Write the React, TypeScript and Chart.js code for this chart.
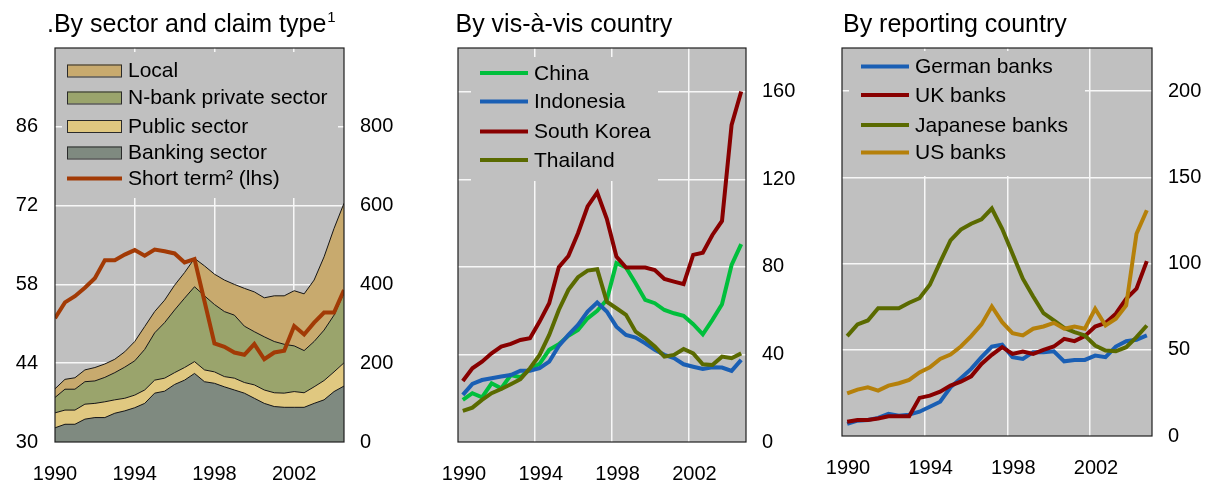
import React, { useEffect, useRef } from 'react';
import { Chart, registerables } from 'chart.js';

Chart.register(...registerables);

const FONT = "'Liberation Sans', Arial, Helvetica, sans-serif";

// ---------- shared x positions (half-yearly observations) ----------
const periodsSector = [
  1990, 1990.5, 1991, 1991.5, 1992, 1992.5, 1993, 1993.5, 1994, 1994.5,
  1995, 1995.5, 1996, 1996.5, 1997, 1997.5, 1998, 1998.5, 1999, 1999.5,
  2000, 2000.5, 2001, 2001.5, 2002, 2002.5, 2003, 2003.5, 2004, 2004.5,
];
const periodsCountry = [
  1990.25, 1990.75, 1991.25, 1991.75, 1992.25, 1992.75, 1993.25, 1993.75, 1994.25, 1994.75,
  1995.25, 1995.75, 1996.25, 1996.75, 1997.25, 1997.75, 1998.25, 1998.75, 1999.25, 1999.75,
  2000.25, 2000.75, 2001.25, 2001.75, 2002.25, 2002.75, 2003.25, 2003.75, 2004.25, 2004.75,
];
const yearTicks = [1990, 1994, 1998, 2002];

// ---------- panel 1: by sector and claim type ----------
const sectorTitle = '.By sector and claim type';
const sectorTitleNote = '1';
const sectorLabels = ['Local', 'N-bank private sector', 'Public sector', 'Banking sector'];
const shortTermLabel = 'Short term² (lhs)';
const localClaims = [22, 25, 29, 30, 34, 34, 34, 39, 49, 58, 54, 57, 63, 65, 72, 76, 77, 80, 78, 96, 101, 99, 116, 123, 140, 144, 156, 186, 220, 228];
const nbankClaims = [39, 53, 53, 57, 57, 62, 69, 79, 87, 103, 120, 141, 159, 176, 190, 188, 171, 165, 160, 143, 135, 135, 130, 124, 116, 107, 115, 128, 144, 177];
const publicClaims = [38, 36, 36, 38, 36, 40, 34, 32, 32, 34, 33, 33, 30, 32, 30, 30, 29, 26, 30, 27, 34, 34, 35, 36, 40, 37, 42, 49, 50, 59];
const bankingClaims = [36, 45, 45, 58, 62, 62, 73, 79, 87, 98, 124, 129, 146, 157, 174, 153, 149, 140, 132, 124, 111, 98, 90, 88, 88, 88, 98, 107, 128, 142];
const shortTermShare = [52.0, 54.8, 55.9, 57.4, 59.1, 62.3, 62.3, 63.3, 64.1, 63.1, 64.2, 63.9, 63.5, 61.9, 62.5, 55.0, 47.5, 46.9, 45.9, 45.5, 47.4, 44.7, 45.9, 46.2, 50.6, 49.1, 51.2, 53.0, 53.0, 57.0];
const lhsTicks = [30, 44, 58, 72, 86];
const rhsTicksSector = [0, 200, 400, 600, 800];

// ---------- panel 2: by vis-a-vis country ----------
const countryTitle = 'By vis-à-vis country';
const countryLabels = ['China', 'Indonesia', 'South Korea', 'Thailand'];
const chinaClaims = [19.2, 22.3, 20.4, 26.8, 24.5, 30.6, 29.6, 33.2, 35.7, 42.1, 44.7, 48.5, 51.2, 56.5, 59.9, 65.0, 81.7, 79.7, 72.5, 64.9, 63.4, 60.3, 58.8, 57.7, 53.8, 49.2, 55.8, 62.9, 80.9, 90.4];
const indonesiaClaims = [21.5, 26.5, 28.3, 29.1, 29.9, 30.6, 32.6, 32.6, 33.7, 36.7, 43.9, 48.9, 53.5, 59.6, 63.7, 59.6, 52.7, 48.9, 47.7, 45.1, 42.1, 39.8, 38.3, 35.5, 34.4, 33.4, 34.1, 34.0, 32.5, 37.5];
const koreaClaims = [27.9, 33.7, 36.7, 40.5, 43.6, 44.8, 46.6, 47.4, 55.0, 63.4, 79.9, 85.0, 95.4, 107.6, 114.0, 102.0, 84.7, 79.7, 79.7, 79.7, 78.6, 74.5, 73.3, 72.1, 85.5, 86.5, 94.6, 101.0, 144.9, 160.1];
const thailandClaims = [14.2, 15.7, 19.2, 22.3, 24.2, 26.4, 28.7, 33.7, 39.8, 48.9, 60.3, 69.5, 75.3, 78.3, 78.9, 64.1, 61.1, 58.1, 50.4, 47.4, 43.6, 39.0, 39.8, 42.5, 40.5, 35.5, 35.2, 39.0, 38.3, 40.5];
const rhsTicksCountry = [0, 40, 80, 120, 160];

// ---------- panel 3: by reporting country ----------
const bankTitle = 'By reporting country';
const bankLabels = ['German banks', 'UK banks', 'Japanese banks', 'US banks'];
const germanClaims = [7.0, 8.9, 9.3, 10.5, 12.8, 11.8, 12.4, 14.1, 17.0, 19.9, 28.2, 33.5, 38.9, 45.7, 51.9, 52.9, 45.7, 44.7, 48.6, 48.6, 49.1, 43.3, 44.1, 44.1, 46.6, 45.7, 51.9, 55.0, 55.8, 58.3];
const ukClaims = [8.3, 9.3, 9.3, 10.2, 11.4, 11.4, 11.4, 22.1, 23.4, 25.7, 29.2, 31.5, 34.6, 41.8, 47.1, 51.5, 47.6, 49.0, 47.6, 50.0, 51.9, 56.3, 55.0, 57.9, 63.5, 65.6, 70.9, 79.6, 85.4, 101.4];
const japaneseClaims = [57.9, 64.7, 67.0, 74.1, 74.1, 74.1, 77.3, 79.9, 87.7, 100.8, 113.4, 119.7, 123.1, 125.6, 131.9, 120.2, 105.7, 91.2, 80.9, 71.2, 67.0, 62.7, 60.2, 58.3, 52.5, 49.6, 49.1, 51.5, 57.3, 64.1];
const usClaims = [24.7, 26.9, 28.2, 26.3, 29.2, 30.6, 32.5, 36.9, 39.8, 44.7, 47.2, 51.9, 57.9, 64.7, 75.1, 66.0, 59.6, 58.3, 62.2, 63.5, 65.6, 62.2, 63.5, 62.2, 73.8, 64.1, 68.0, 75.7, 117.3, 130.9];
const rhsTicksBank = [0, 50, 100, 150, 200];

// ---------- styles ----------
const PLOT_BG = '#c0c0c0';
const GRID = '#f7f7f7';
const FRAME = '#1e1e1e';
const C_LOCAL = '#c8aa6e';
const C_NBANK = '#9aa46c';
const C_PUBLIC = '#e0c880';
const C_BANKING = '#7f8a80';
const C_SHORT = '#a23a05';
const C_GREEN = '#00bf3c';
const C_BLUE = '#1a5fb4';
const C_RED = '#880000';
const C_OLIVE = '#5a6a00';
const C_GOLD = '#b5800a';

type Entry = { label: string; color: string; kind: 'box' | 'line' };
type Deco = {
  title: string;
  note?: string;
  titleX: number;
  legendRect: [number, number, number, number];
  swatchX: number;
  swatchW: number;
  textX: number;
  rows: number[];
  entries: Entry[];
};

function makeDeco(d: Deco) {
  return {
    id: 'deco',
    beforeDraw(chart: any) {
      const { ctx, chartArea: a } = chart;
      ctx.save();
      ctx.fillStyle = PLOT_BG;
      ctx.fillRect(a.left, a.top, a.right - a.left, a.bottom - a.top);
      ctx.restore();
    },
    beforeDatasetsDraw(chart: any) {
      const { ctx } = chart;
      const [lx, ly, lw, lh] = d.legendRect;
      ctx.save();
      ctx.fillStyle = PLOT_BG;
      ctx.fillRect(lx, ly, lw, lh);
      ctx.font = `21px ${FONT}`;
      ctx.textBaseline = 'middle';
      ctx.textAlign = 'left';
      d.entries.forEach((e, i) => {
        const y = d.rows[i];
        if (e.kind === 'box') {
          ctx.fillStyle = e.color;
          ctx.fillRect(d.swatchX, y - 6, d.swatchW, 12);
          ctx.strokeStyle = '#2a2a2a';
          ctx.lineWidth = 1;
          ctx.strokeRect(d.swatchX + 0.5, y - 6 + 0.5, d.swatchW - 1, 12);
        } else {
          ctx.strokeStyle = e.color;
          ctx.lineWidth = 4;
          ctx.beginPath();
          ctx.moveTo(d.swatchX, y);
          ctx.lineTo(d.swatchX + d.swatchW, y);
          ctx.stroke();
        }
        ctx.fillStyle = '#000';
        ctx.fillText(e.label, d.textX, y + 1);
      });
      ctx.restore();
    },
    afterDatasetsDraw(chart: any) {
      const { ctx, chartArea: a } = chart;
      ctx.save();
      ctx.strokeStyle = FRAME;
      ctx.lineWidth = 1.2;
      ctx.strokeRect(a.left, a.top, a.right - a.left, a.bottom - a.top);
      ctx.restore();
    },
    afterDraw(chart: any) {
      const { ctx } = chart;
      ctx.save();
      ctx.fillStyle = '#000';
      ctx.textBaseline = 'alphabetic';
      ctx.textAlign = 'left';
      ctx.font = `25px ${FONT}`;
      ctx.fillText(d.title, d.titleX, 32);
      if (d.note) {
        const w = ctx.measureText(d.title).width;
        ctx.font = `15px ${FONT}`;
        ctx.fillText(d.note, d.titleX + w + 1, 22);
      }
      ctx.restore();
    },
  };
}

const tickFont = { family: FONT, size: 20 };

function xScale(max: number, height: number, labelOffset: number) {
  return {
    type: 'linear',
    min: 1990,
    max,
    afterBuildTicks: (s: any) => {
      s.ticks = yearTicks.map((v) => ({ value: v }));
    },
    afterFit: (s: any) => {
      s.height = height;
      s.paddingLeft = 0;
      s.paddingRight = 0;
    },
    grid: {
      drawTicks: false,
      lineWidth: 1.5,
      color: (c: any) => (c.tick && c.tick.value === 1990 ? 'rgba(0,0,0,0)' : GRID),
    },
    border: { display: false },
    ticks: {
      font: tickFont,
      color: '#000',
      padding: 20,
      labelOffset,
      maxRotation: 0,
      autoSkip: false,
      callback: (v: any) => String(v),
    },
  };
}

function rightScale(max: number, ticks: number[], width: number, stacked: boolean) {
  return {
    type: 'linear',
    position: 'right',
    stacked,
    min: 0,
    max,
    afterBuildTicks: (s: any) => {
      s.ticks = ticks.map((v) => ({ value: v }));
    },
    afterFit: (s: any) => {
      s.width = width;
    },
    grid: {
      drawTicks: false,
      lineWidth: 1.5,
      color: (c: any) => (c.tick && c.tick.value === 0 ? 'rgba(0,0,0,0)' : GRID),
    },
    border: { display: false },
    ticks: { font: tickFont, color: '#000', padding: 16, callback: (v: any) => String(v) },
  };
}

function lineSet(label: string, xs: number[], ys: number[], color: string, order: number) {
  return {
    label,
    data: xs.map((x, i) => ({ x, y: ys[i] })),
    borderColor: color,
    backgroundColor: color,
    borderWidth: 4,
    pointRadius: 0,
    pointHoverRadius: 0,
    tension: 0,
    fill: false,
    order,
  };
}

function areaSet(label: string, ys: number[], color: string, fill: any) {
  return {
    label,
    data: periodsSector.map((x, i) => ({ x, y: ys[i] })),
    yAxisID: 'yR',
    borderColor: '#151515',
    backgroundColor: color,
    borderWidth: 1,
    pointRadius: 0,
    pointHoverRadius: 0,
    tension: 0,
    fill,
    order: 1,
  };
}

const baseOptions = (padLeft: number) => ({
  animation: false,
  responsive: false,
  maintainAspectRatio: false,
  events: [],
  layout: { padding: { top: 48, left: padLeft, right: 0, bottom: 0 } },
  plugins: { legend: { display: false }, tooltip: { enabled: false }, title: { display: false } },
});

function SectorPanel() {
  const ref = useRef<HTMLCanvasElement | null>(null);
  useEffect(() => {
    if (!ref.current) return;
    const deco = makeDeco({
      title: sectorTitle,
      note: sectorTitleNote,
      titleX: 47,
      legendRect: [62, 52, 276, 146],
      swatchX: 67,
      swatchW: 55,
      textX: 128,
      rows: [70.5, 97.5, 126, 152.5, 178.5],
      entries: [
        { label: sectorLabels[0], color: C_LOCAL, kind: 'box' },
        { label: sectorLabels[1], color: C_NBANK, kind: 'box' },
        { label: sectorLabels[2], color: C_PUBLIC, kind: 'box' },
        { label: sectorLabels[3], color: C_BANKING, kind: 'box' },
        { label: shortTermLabel, color: C_SHORT, kind: 'line' },
      ],
    });
    const chart = new Chart(ref.current, {
      type: 'line',
      data: {
        datasets: [
          { ...lineSet(shortTermLabel, periodsSector, shortTermShare, C_SHORT, 0), yAxisID: 'yL' },
          areaSet(sectorLabels[3], bankingClaims, C_BANKING, 'origin'),
          areaSet(sectorLabels[2], publicClaims, C_PUBLIC, '-1'),
          areaSet(sectorLabels[1], nbankClaims, C_NBANK, '-1'),
          areaSet(sectorLabels[0], localClaims, C_LOCAL, '-1'),
        ],
      },
      options: {
        ...baseOptions(0),
        scales: {
          x: xScale(2004.5, 45, 0),
          yR: rightScale(1000, rhsTicksSector, 66, true),
          yL: {
            type: 'linear',
            position: 'left',
            min: 30,
            max: 100,
            afterBuildTicks: (s: any) => {
              s.ticks = lhsTicks.map((v) => ({ value: v }));
            },
            afterFit: (s: any) => {
              s.width = 55;
            },
            grid: { display: false, drawTicks: false },
            border: { display: false },
            ticks: { font: tickFont, color: '#000', padding: 17, callback: (v: any) => String(v) },
          },
        },
      } as any,
      plugins: [deco],
    } as any);
    return () => chart.destroy();
  }, []);
  return <canvas ref={ref} width={410} height={487} style={{ position: 'absolute', left: 0, top: 0 }} />;
}

function CountryPanel() {
  const ref = useRef<HTMLCanvasElement | null>(null);
  useEffect(() => {
    if (!ref.current) return;
    const colors = [C_GREEN, C_BLUE, C_RED, C_OLIVE];
    const series = [chinaClaims, indonesiaClaims, koreaClaims, thailandClaims];
    const deco = makeDeco({
      title: countryTitle,
      titleX: 45.5,
      legendRect: [61, 57, 187, 124],
      swatchX: 70,
      swatchW: 48,
      textX: 124,
      rows: [73, 101.5, 131.5, 160],
      entries: countryLabels.map((l, i) => ({ label: l, color: colors[i], kind: 'line' as const })),
    });
    const chart = new Chart(ref.current, {
      type: 'line',
      data: {
        datasets: countryLabels.map((l, i) => ({ ...lineSet(l, periodsCountry, series[i], colors[i], -i), yAxisID: 'y' })),
      },
      options: {
        ...baseOptions(48),
        scales: {
          x: xScale(2005, 45, 6),
          y: rightScale(180, rhsTicksCountry, 64, false),
        },
      } as any,
      plugins: [deco],
    } as any);
    return () => chart.destroy();
  }, []);
  return <canvas ref={ref} width={400} height={487} style={{ position: 'absolute', left: 410, top: 0 }} />;
}

function BankPanel() {
  const ref = useRef<HTMLCanvasElement | null>(null);
  useEffect(() => {
    if (!ref.current) return;
    const colors = [C_BLUE, C_RED, C_OLIVE, C_GOLD];
    const series = [germanClaims, ukClaims, japaneseClaims, usClaims];
    const deco = makeDeco({
      title: bankTitle,
      titleX: 33,
      legendRect: [39, 51, 236, 125],
      swatchX: 51,
      swatchW: 48,
      textX: 105,
      rows: [66.5, 95, 125, 152.5],
      entries: bankLabels.map((l, i) => ({ label: l, color: colors[i], kind: 'line' as const })),
    });
    const chart = new Chart(ref.current, {
      type: 'line',
      data: {
        datasets: bankLabels.map((l, i) => ({ ...lineSet(l, periodsCountry, series[i], colors[i], -i), yAxisID: 'y' })),
      },
      options: {
        ...baseOptions(32),
        scales: {
          x: xScale(2005, 51, 6),
          y: rightScale(225, rhsTicksBank, 62, false),
        },
      } as any,
      plugins: [deco],
    } as any);
    return () => chart.destroy();
  }, []);
  return <canvas ref={ref} width={404} height={487} style={{ position: 'absolute', left: 810, top: 0 }} />;
}

export default function App() {
  return (
    <div style={{ position: 'absolute', left: 0, top: 0, width: 1214, height: 487, background: '#fff', overflow: 'hidden' }}>
      <SectorPanel />
      <CountryPanel />
      <BankPanel />
    </div>
  );
}
